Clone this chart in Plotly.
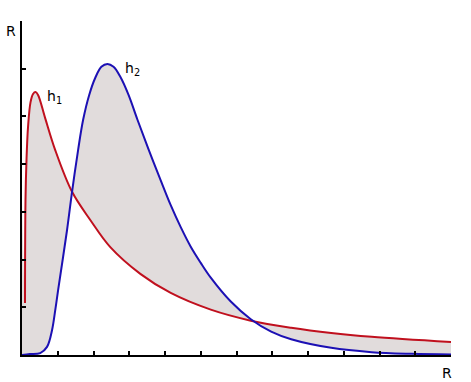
import plotly.graph_objects as go

# h1 (red) curve
h1_x = [0.084, 0.098, 0.126, 0.169, 0.239, 0.309, 0.379, 0.449, 0.646, 0.927, 1.40, 1.91, 2.47,
        3.31, 4.16, 5.28, 6.40, 7.53, 8.65, 9.78, 12.0]
h1_y = [1.09, 3.25, 4.09, 4.78, 5.30, 5.47, 5.51, 5.45, 4.97, 4.30, 3.42, 2.83, 2.26,
        1.70, 1.30, 0.95, 0.72, 0.57, 0.46, 0.38, 0.27]

# h2 (blue) curve
h2_x = [0.0, 0.22, 0.51, 0.70, 0.84, 0.93, 1.01, 1.26, 1.40, 1.57, 1.71, 1.88, 2.05, 2.22, 2.39,
        2.56, 2.75, 2.98, 3.23, 3.54, 3.88, 4.16, 4.44, 4.72, 5.00, 5.28, 5.84, 6.40, 6.97,
        7.53, 8.65, 9.78, 10.9, 12.0]
h2_y = [0.0, 0.02, 0.04, 0.17, 0.52, 0.94, 1.36, 2.62, 3.42, 4.30, 4.93, 5.45, 5.81, 6.04, 6.10,
        6.04, 5.83, 5.45, 4.93, 4.31, 3.66, 3.14, 2.68, 2.27, 1.93, 1.62, 1.12, 0.75, 0.49,
        0.33, 0.15, 0.06, 0.025, 0.01]

x_ticks = list(range(0, 13))
y_ticks = list(range(0, 8))

RED = "#c0101e"
BLUE = "#1c10b4"
FILL = "#e1dcdc"

fig = go.Figure()
# envelope for the fill (red curve extended back to the axis)
fig.add_trace(go.Scatter(x=[0] + h1_x, y=[h1_y[1]] + h1_y, mode="lines",
                         line=dict(width=0, color=FILL, shape="spline", smoothing=1.0),
                         hoverinfo="skip", showlegend=False))
fig.add_trace(go.Scatter(x=h2_x, y=h2_y, mode="lines", fill="tonexty", fillcolor=FILL,
                         line=dict(width=0, color=FILL, shape="spline", smoothing=1.0),
                         hoverinfo="skip", showlegend=False))
fig.add_trace(go.Scatter(x=h1_x, y=h1_y, mode="lines",
                         line=dict(width=2, color=RED, shape="spline", smoothing=1.0),
                         showlegend=False))
fig.add_trace(go.Scatter(x=h2_x, y=h2_y, mode="lines",
                         line=dict(width=2, color=BLUE, shape="spline", smoothing=1.0),
                         showlegend=False))

font = dict(family="DejaVu Sans", size=14, color="black")
fig.add_annotation(x=0.90, y=5.41, xref="x", yref="y", text="h<sub>1</sub>", showarrow=False,
                   font=font, xanchor="center", yanchor="middle")
fig.add_annotation(x=3.09, y=6.0, xref="x", yref="y", text="h<sub>2</sub>", showarrow=False,
                   font=font, xanchor="center", yanchor="middle")
fig.add_annotation(x=-0.026, y=0.970, xref="paper", yref="paper", text="R", showarrow=False,
                   font=font, xanchor="center", yanchor="middle")
fig.add_annotation(x=0.991, y=-0.054, xref="paper", yref="paper", text="R", showarrow=False,
                   font=font, xanchor="center", yanchor="middle")

fig.update_xaxes(range=[0, 12], tickvals=x_ticks, showticklabels=False, ticks="inside",
                 ticklen=4, tickwidth=1.5, tickcolor="black", showline=True, linecolor="black",
                 linewidth=2, showgrid=False, zeroline=False)
fig.update_yaxes(range=[0, 7], tickvals=y_ticks, showticklabels=False, ticks="inside",
                 ticklen=4, tickwidth=1.5, tickcolor="black", showline=True, linecolor="black",
                 linewidth=2, showgrid=False, zeroline=False)
fig.update_layout(width=471, height=382, margin=dict(l=22, r=20, t=21, b=27),
                  plot_bgcolor="white", paper_bgcolor="white")
fig.write_html("out.html")
